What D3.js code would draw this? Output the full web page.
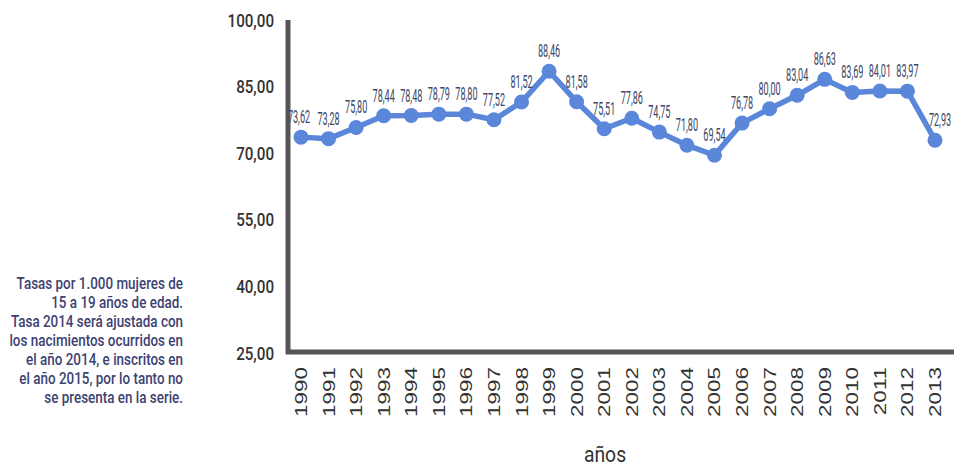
<!DOCTYPE html>
<html>
<head>
<meta charset="utf-8">
<script src="https://cdn.jsdelivr.net/npm/d3@7"></script>
<style>
  body { margin: 0; background: #fff; }
  .narrow { font-family: "Roboto", "Liberation Sans", sans-serif; }
  .axis-line { stroke: #555; stroke-width: 5; }
</style>
</head>
<body>
<div id="content"></div>
<script>
// data
var years = [1990, 1991, 1992, 1993, 1994, 1995, 1996, 1997, 1998, 1999, 2000, 2001,
             2002, 2003, 2004, 2005, 2006, 2007, 2008, 2009, 2010, 2011, 2012, 2013];
var rates = [73.62, 73.28, 75.80, 78.44, 78.48, 78.79, 78.80, 77.52, 81.52, 88.46, 81.58, 75.51,
             77.86, 74.75, 71.80, 69.54, 76.78, 80.00, 83.04, 86.63, 83.69, 84.01, 83.97, 72.93];
var yTicks = [25, 40, 55, 70, 85, 100];
var noteLines = [
    "Tasas por 1.000 mujeres de",
    "15 a 19 años de edad.",
    "Tasa 2014 será ajustada con",
    "los nacimientos ocurridos en",
    "el año 2014, e inscritos en",
    "el año 2015, por lo tanto no",
    "se presenta en la serie."
];
var xTitle = "años";

var width = 954;
var height = 468;
var fmt = function (v) { return v.toFixed(2).replace(".", ","); };

var svg = d3.select("#content").append("svg")
    .attr("width", width)
    .attr("height", height);

var xScale = d3.scalePoint()
    .domain(years)
    .range([301, 935]);

var yScale = d3.scaleLinear()
    .domain([25, 100])
    .range([353, 20]);

// axis lines (left + bottom)
svg.append("line").attr("class", "axis-line")
    .attr("x1", 288).attr("x2", 288)
    .attr("y1", 20).attr("y2", 354);
svg.append("line").attr("class", "axis-line")
    .attr("x1", 286).attr("x2", width)
    .attr("y1", 352).attr("y2", 352);

// y tick labels (condensed look via scaleX)
svg.append("g").selectAll("text")
    .data(yTicks)
    .enter()
    .append("text")
    .attr("class", "narrow")
    .attr("transform", function (d) {
        return "translate(274," + yScale(d) + ") scale(0.82,1)";
    })
    .attr("dy", "0.36em")
    .attr("text-anchor", "end")
    .style("font-size", "18.5px")
    .style("font-weight", "500")
    .style("fill", "#333")
    .text(fmt);

// x tick labels, rotated and stretched
svg.append("g").selectAll("text")
    .data(years)
    .enter()
    .append("text")
    .attr("transform", function (d) {
        return "translate(" + (xScale(d) + 6) + ",367) rotate(-90) scale(1.36,1)";
    })
    .attr("text-anchor", "end")
    .style("font-family", "Liberation Sans, Arial, sans-serif")
    .style("font-size", "16.5px")
    .style("fill", "#333")
    .text(function (d) { return d; });

// x axis title
svg.append("text")
    .attr("class", "narrow")
    .attr("transform", "translate(605,462) scale(0.88,1)")
    .attr("text-anchor", "middle")
    .style("font-size", "22px")
    .style("fill", "#333")
    .text(xTitle);

// line
var line = d3.line()
    .x(function (d, i) { return xScale(years[i]); })
    .y(function (d) { return yScale(d); });

svg.append("path")
    .datum(rates)
    .attr("d", line)
    .attr("fill", "none")
    .attr("stroke", "#5b87da")
    .attr("stroke-width", 5.5)
    .attr("stroke-linejoin", "round");

svg.append("g").selectAll("circle")
    .data(rates)
    .enter()
    .append("circle")
    .attr("cx", function (d, i) { return xScale(years[i]); })
    .attr("cy", function (d) { return yScale(d); })
    .attr("r", 7.5)
    .attr("fill", "#5b87da");

// value labels (last one nudged right off the falling line)
svg.append("g").selectAll("text")
    .data(rates)
    .enter()
    .append("text")
    .attr("class", "narrow")
    .attr("transform", function (d, i) {
        var dx = i == rates.length - 1 ? 5 : (i == 0 ? -2 : 0);
        return "translate(" + (xScale(years[i]) + dx) + "," + (yScale(d) - 14) + ") scale(0.52,1)";
    })
    .attr("text-anchor", "middle")
    .style("font-size", "17.5px")
    .style("fill", "#3a4766")
    .text(fmt);

// note on the left
svg.append("g").selectAll("text")
    .data(noteLines)
    .enter()
    .append("text")
    .attr("class", "narrow")
    .attr("transform", function (d, i) {
        return "translate(183," + (289 + i * 19) + ") scale(0.84,1)";
    })
    .attr("text-anchor", "end")
    .style("font-size", "16px")
    .style("font-weight", "500")
    .style("fill", "#3d4272")
    .text(function (d) { return d; });
</script>
</body>
</html>
